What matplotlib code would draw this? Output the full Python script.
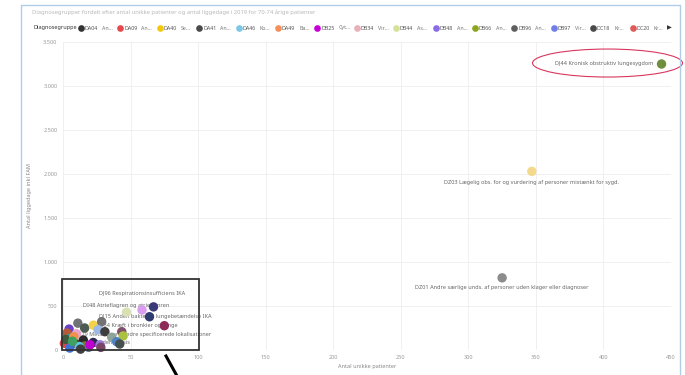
import numpy as np
import matplotlib
matplotlib.use("Agg")
import matplotlib.pyplot as plt
from matplotlib.patches import Ellipse, Rectangle
from matplotlib.lines import Line2D

plt.rcParams["font.family"] = ["Noto Sans", "DejaVu Sans"]

TITLE = "Diagnosegrupper fordelt efter antal unikke patienter og antal liggedage i 2019 for 70-74 årige patienter"
LEGEND_TITLE = "Diagnosegruppe"
legend_codes = ["DA04", "DA09", "DA40", "DA41", "DA46", "DA49", "DB25", "DB34",
                "DB44", "DB48", "DB66", "DB96", "DB97", "DC18", "DC20"]
legend_abbr = ["An...", "An...", "Se...", "An...", "Ko...", "Ba...", "Cyt...", "Vir...",
               "As...", "An...", "An...", "An...", "Vir...", "Kr...", "Kr..."]
legend_colors = ["#333333", "#e8474c", "#f2c80f", "#4a4a4a", "#7cc6e8", "#f5905a",
                 "#c800d8", "#e8b0b8", "#d6e29a", "#8a6ce6", "#8aa51e", "#5f5f5f",
                 "#6e7fe8", "#4a4a4a", "#e05a5a"]

# antal unikke patienter / antal liggedage
patients = [443, 347, 325, 58.5, 67, 47, 64, 75, 11, 4.5, 3, 16, 22.5, 28.6, 26, 31,
            43.5, 44.5, 36, 39.7, 42, 22.4, 27.4, 28, 5.2, 9, 15, 1, 5, 16, 10, 2,
            8, 12, 19, 13, 20, 7]
beddays = [3250, 2030, 820, 455, 490, 430, 378, 276, 305, 238, 193, 250, 282, 322, 230, 208,
           208, 160, 145, 95, 68, 85, 60, 30, 133, 76, 114, 76, 22, 45, 185, 120,
           150, 40, 30, 10, 60, 100]
colors = ["#6f8f3c", "#f2d98c", "#8c8c8c", "#d99cf0", "#3b3a78", "#d9e1b4", "#2f3a6e",
          "#8e2a58", "#6f7277", "#6a40c8", "#b55a3a", "#4d5c52", "#f3d24a", "#737373",
          "#9bb8e6", "#3e3e3e", "#80506a", "#a9c23f", "#8fa397", "#4f82c4", "#45504f",
          "#2c2a55", "#9a7ad8", "#7a4565", "#1aa5a0", "#5e3a1e", "#2a2a2a", "#e04848",
          "#3e6fd6", "#7a7a30", "#e6a5c8", "#3f5a40", "#f0904a", "#5cc5e0", "#707890",
          "#404040", "#c000d0", "#40a060"]

# data labels: (point index, text)
labels = [(0, "DJ44 Kronisk obstruktiv lungesygdom"),
          (1, "DZ03 Lægelig obs. for og vurdering af personer mistænkt for sygd."),
          (2, "DZ01 Andre særlige unds. af personer uden klager eller diagnoser"),
          (3, "DJ96 Respirationsinsufficiens IKA"),
          (5, "DI48 Atrieflagren og atrieflimren"),
          (6, "DJ15 Anden bakteriel lungebetændelse IKA"),
          (15, "DC34 Kræft i bronkier og lunge"),
          (18, "DC79 Metastaser i andre specificerede lokalisationer"),
          (21, "DA41 Anden sepsis")]
# label offsets in pixels (dx, dy, ha)
label_offsets = [(-8, 0, "right"), (0, -11, "center"), (0, -10, "center"), (0, 16, "center"),
                 (0, 7, "center"), (6, 0, "center"), (32, 6, "center"), (31, 3, "center"),
                 (12, 0, "center")]

W, H = 685, 375
fig = plt.figure(figsize=(W / 100, H / 100), dpi=100)
fx = lambda px: px / W
fy = lambda py: 1 - py / H

ax = fig.add_axes([fx(63), fy(350), fx(671) - fx(63), fy(42) - fy(350)])
ax.set_xlim(0, 450)
ax.set_ylim(0, 3500)
ax.set_xticks(np.arange(0, 451, 50))
ax.set_yticks(np.arange(0, 3501, 500))
ax.yaxis.set_major_formatter(matplotlib.ticker.FuncFormatter(
    lambda v, p: f"{int(v):,}".replace(",", ".")))
ax.grid(True, color="#eeeeee", lw=0.6)
ax.set_axisbelow(True)
for s in ax.spines.values():
    s.set_visible(False)
ax.tick_params(length=0, labelsize=4, labelcolor="#999999")
ax.tick_params(axis="y", pad=4)
ax.tick_params(axis="x", pad=3.5)
ax.set_xlabel("Antal unikke patienter", fontsize=4, color="#888888", labelpad=3)
ax.set_ylabel("Antal liggedage inkl FAM", fontsize=4, color="#888888", labelpad=8)

ax.scatter(patients, beddays, s=46, c=colors, edgecolors="none", zorder=3, clip_on=False)

for (i, txt), (dx, dy, ha) in zip(labels, label_offsets):
    ax.annotate(txt, (patients[i], beddays[i]), xytext=(dx, dy), textcoords="offset pixels",
                ha=ha, va="center", fontsize=4, color="#666666", zorder=2)

# highlight annotations
ax.add_patch(Ellipse((403, 3261), 111, 318, fill=False, ec="#d9365e", lw=0.8, clip_on=False))
ax.add_patch(Rectangle((-1, 0), 102, 807, fill=False, ec="#333333", lw=1.3, clip_on=False, zorder=4))
fig.add_artist(Line2D([fx(166), fx(177)], [fy(356), fy(376)], color="black", lw=2.2))

# visual frame
fig.add_artist(Line2D([fx(21), fx(21), fx(680), fx(680)], [fy(380), fy(5), fy(5), fy(380)],
                      color="#b0cce8", lw=1.0))

fig.text(fx(32), fy(12), TITLE, fontsize=4.2, color="#b8b8b8", ha="left", va="center")
fig.text(fx(33), fy(28), LEGEND_TITLE, fontsize=4, color="#333333", ha="left", va="center",
         fontweight="semibold")
for k, (code, ab, col) in enumerate(zip(legend_codes, legend_abbr, legend_colors)):
    x0 = 81 + k * 39.4
    fig.add_artist(Line2D([fx(x0)], [fy(28)], marker="o", ms=4.8, color=col, mec="none"))
    fig.text(fx(x0 + 3.8), fy(28), code, fontsize=3.8, color="#555555", ha="left", va="center")
    fig.text(fx(x0 + 21), fy(28), ab, fontsize=3.8, color="#777777", ha="left", va="center")
fig.text(fx(669), fy(28), "▶", fontsize=4.5, color="#333333", ha="center", va="center")

fig.savefig("out.png", dpi=100)
